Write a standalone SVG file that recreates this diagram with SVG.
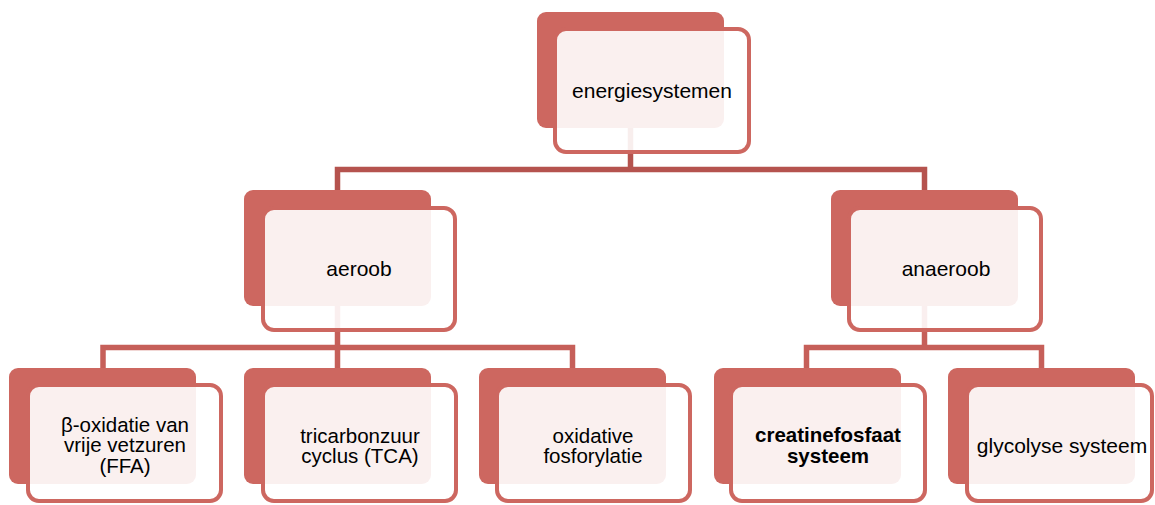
<svg xmlns="http://www.w3.org/2000/svg" width="1155" height="505" viewBox="0 0 1155 505">
<style>
.back{fill:#CD6760;}
.front{fill:#FFFFFF;fill-opacity:0.9;stroke:#CD6760;stroke-width:4;}
.t{font-family:"Liberation Sans",Arial,sans-serif;font-size:21px;fill:#000;text-anchor:middle;}
.m{font-size:20.5px;}
.b{font-weight:bold;}
.c1{fill:none;stroke:#B5534E;stroke-width:5.5;stroke-linejoin:miter;}
.c2{fill:none;stroke:#C65F59;stroke-width:5.5;stroke-linejoin:miter;}
</style>
<rect width="1155" height="505" fill="#FFFFFF"/>
<g id="connectors">
<path class="c1" d="M630.5 128 V169.5 M337.5 190 V169.5 H924.5 V190"/>
<path class="c2" d="M337.5 306 V368 M103 368 V347.5 H572.5 V368"/>
<path class="c2" d="M924.5 306 V347.5 M806.5 368 V347.5 H1041.5 V368"/>
</g>
<g id="energiesystemen">
<rect class="back" x="537" y="12" width="187" height="116" rx="9"/>
<rect class="front" x="555" y="29" width="194" height="123" rx="11"/>
<text class="t" x="652" y="98">energiesystemen</text>
</g>
<g id="aeroob">
<rect class="back" x="244" y="190" width="187" height="116" rx="9"/>
<rect class="front" x="263" y="208" width="192" height="122" rx="11"/>
<text class="t" x="359" y="276">aeroob</text>
</g>
<g id="anaeroob">
<rect class="back" x="831" y="190" width="187" height="116" rx="9"/>
<rect class="front" x="849" y="208" width="192" height="122" rx="11"/>
<text class="t" x="946" y="276">anaeroob</text>
</g>
<g id="beta-oxidatie">
<rect class="back" x="9" y="368" width="187" height="116" rx="9"/>
<rect class="front" x="28" y="385" width="193" height="116" rx="11"/>
<text class="t m" x="125" y="431.5">β-oxidatie van</text>
<text class="t m" x="125" y="452">vrije vetzuren</text>
<text class="t m" x="125" y="472.5">(FFA)</text>
</g>
<g id="tricarbonzuur">
<rect class="back" x="244" y="368" width="187" height="116" rx="9"/>
<rect class="front" x="263" y="385" width="193" height="116" rx="11"/>
<text class="t m" x="360" y="442.5">tricarbonzuur</text>
<text class="t m" x="360" y="463">cyclus (TCA)</text>
</g>
<g id="oxidative">
<rect class="back" x="479" y="368" width="187" height="116" rx="9"/>
<rect class="front" x="497" y="385" width="193" height="116" rx="11"/>
<text class="t m" x="593" y="442.5">oxidative</text>
<text class="t m" x="593" y="463">fosforylatie</text>
</g>
<g id="creatinefosfaat">
<rect class="back" x="714" y="368" width="187" height="116" rx="9"/>
<rect class="front" x="731" y="385" width="194" height="116" rx="11"/>
<text class="t b m" x="828" y="442">creatinefosfaat</text>
<text class="t b m" x="828" y="463">systeem</text>
</g>
<g id="glycolyse">
<rect class="back" x="948" y="368" width="187" height="116" rx="9"/>
<rect class="front" x="967" y="385" width="185" height="116" rx="11"/>
<text class="t" x="1062" y="453">glycolyse systeem</text>
</g>
</svg>
